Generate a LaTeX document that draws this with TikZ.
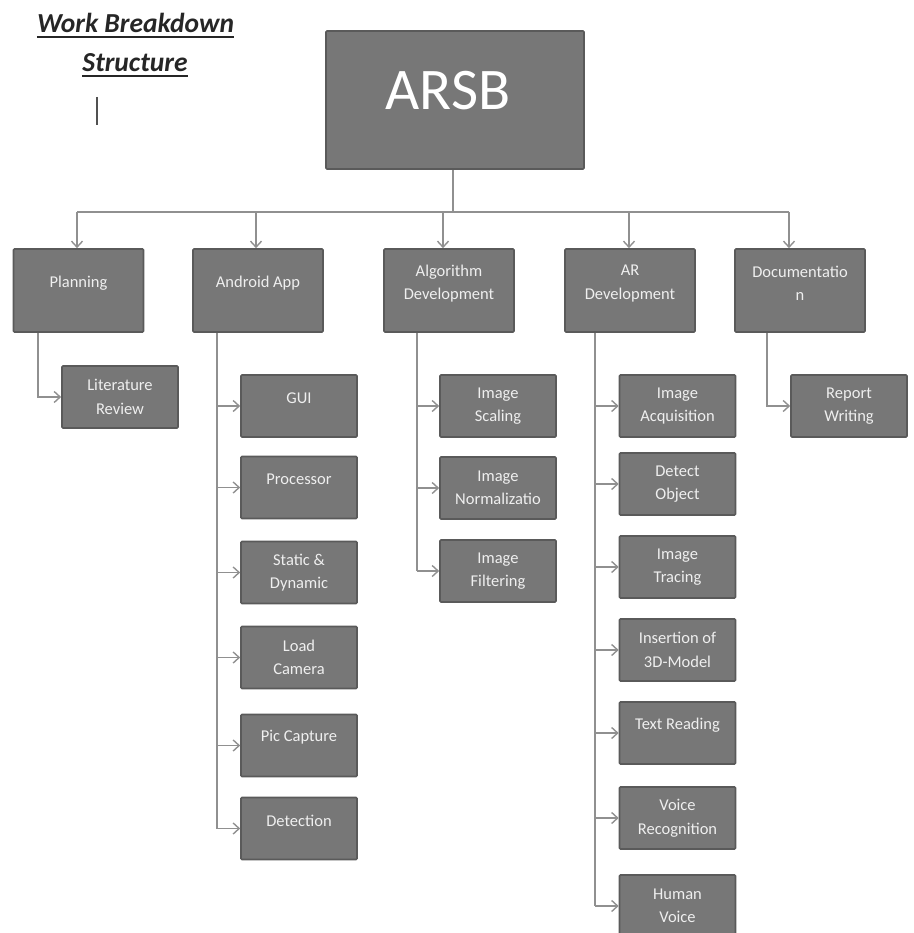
\documentclass[tikz,border=0pt]{standalone}
\usepackage{fontspec}
\setmainfont{Carlito}
\usetikzlibrary{arrows.meta}
\definecolor{boxfill}{HTML}{777777}
\definecolor{boxedge}{HTML}{5A5A5A}
\definecolor{linegray}{HTML}{909090}
\definecolor{txtgray}{HTML}{EFEFEF}
\definecolor{titlegray}{HTML}{262626}
\tikzset{
  wbs/.style={draw=boxedge, fill=boxfill, line width=1.6pt, rounded corners=1pt, inner sep=0pt},
  topbox/.style={wbs, minimum width=130pt, minimum height=83pt},
  subbox/.style={wbs, minimum width=116pt, minimum height=62pt},
  boxtext/.style={text=txtgray, font=\fontsize{16.5}{23.5}\selectfont, align=center, inner sep=0pt},
  toptext/.style={boxtext, yshift=7pt},
  subone/.style={boxtext, yshift=8pt},
  subtwo/.style={boxtext, yshift=0pt},
  conn/.style={draw=linegray, line width=1.6pt},
  arr/.style={conn, -{Straight Barb[length=6pt, width=11pt, line width=1.4pt]}},
  titletext/.style={text=titlegray, font=\fontsize{27.5}{30}\selectfont\bfseries\itshape, inner sep=0pt, anchor=base}
}
\begin{document}
\begin{tikzpicture}[x=1pt, y=-1pt]
\useasboundingbox (0,0) rectangle (913,933);

% title
\node[titletext] (t1) at (135.5,33) {Work Breakdown};
\node[titletext] (t2) at (135,72) {Structure};
\draw[titlegray, line width=2pt] ([yshift=-4.5pt]t1.base west) -- ([yshift=-4.5pt]t1.base east);
\draw[titlegray, line width=2pt] ([yshift=-4.5pt]t2.base west) -- ([yshift=-4.5pt]t2.base east);
\coordinate (cur1) at (97,97);
\coordinate (cur2) at (97,125);
\draw[titlegray!80, line width=1.6pt] (cur1) -- (cur2);

% root
\node[wbs, minimum width=258pt, minimum height=138pt,
  label={[text=white, font=\fontsize{59}{60}\selectfont, inner sep=0pt, xshift=-7pt, yshift=9pt]center:ARSB}] (arsb) at (455,100) {};

% level 1
\node[topbox, label={[toptext]center:Planning}] (plan) at (78.5,290.5) {};
\node[topbox, label={[toptext]center:Android App}] (andr) at (258,290.5) {};
\node[topbox, label={[toptext]center:{Algorithm\\Development}}] (algo) at (449,290.5) {};
\node[topbox, label={[toptext]center:{AR\\Development}}] (ardev) at (630,290.5) {};
\node[topbox, label={[toptext]center:{Documentatio\\n}}] (docu) at (800,290.5) {};

% bus
\coordinate (rootx) at (453,212);
\coordinate (busL) at (77,212);
\coordinate (busA) at (256,212);
\coordinate (busG) at (443,212);
\coordinate (busR) at (629,212);
\coordinate (busD) at (789,212);
\draw[conn] (arsb.south -| rootx) -- (rootx);
\draw[conn] (busL) -- (busD);
\draw[arr] (busL) -- (busL |- plan.north);
\draw[arr] (busA) -- (busA |- andr.north);
\draw[arr] (busG) -- (busG |- algo.north);
\draw[arr] (busR) -- (busR |- ardev.north);
\draw[arr] (busD) -- (busD |- docu.north);

% planning children
\node[subbox, label={[subtwo]center:{Literature\\Review}}] (lit) at (120,397) {};
\coordinate (sP) at (38,0);
\draw[arr] (plan.south -| sP) |- (lit.west);

% android children
\node[subbox, label={[subone]center:GUI}] (gui) at (299,406) {};
\node[subbox, label={[subone]center:Processor}] (proc) at (299,487.5) {};
\node[subbox, label={[subtwo]center:{Static \&\\Dynamic}}] (stat) at (299,572.5) {};
\node[subbox, label={[subtwo]center:{Load\\Camera}}] (load) at (299,657.5) {};
\node[subbox, label={[subone]center:Pic Capture}] (pic) at (299,745.5) {};
\node[subbox, label={[subone]center:Detection}] (det) at (299,828.5) {};
\coordinate (sA) at (217,0);
\draw[conn] (andr.south -| sA) -- (sA |- det.west);
\foreach \c in {gui,proc,stat,load,pic,det}
  \draw[arr] (sA |- \c.west) -- (\c.west);

% algorithm children
\node[subbox, label={[subtwo]center:{Image\\Scaling}}] (scal) at (498,406) {};
\node[subbox, label={[subtwo]center:{Image\\Normalizatio}}] (norm) at (498,488) {};
\node[subbox, label={[subtwo]center:{Image\\Filtering}}] (filt) at (498,571) {};
\coordinate (sG) at (417,0);
\draw[conn] (algo.south -| sG) -- (sG |- filt.west);
\foreach \c in {scal,norm,filt}
  \draw[arr] (sG |- \c.west) -- (\c.west);

% AR children
\node[subbox, label={[subtwo]center:{Image\\Acquisition}}] (acq) at (677.5,406) {};
\node[subbox, label={[subtwo]center:{Detect\\Object}}] (dobj) at (677.5,484) {};
\node[subbox, label={[subtwo]center:{Image\\Tracing}}] (trac) at (677.5,567) {};
\node[subbox, label={[subtwo]center:{Insertion of\\3D-Model}}] (ins) at (677.5,650) {};
\node[subbox, label={[subone]center:Text Reading}] (txtr) at (677.5,733) {};
\node[subbox, label={[subtwo]center:{Voice\\Recognition}}] (voice) at (677.5,818) {};
\node[subbox, label={[subtwo]center:{Human\\Voice}}] (human) at (677.5,906) {};
\coordinate (sR) at (595,0);
\draw[conn] (ardev.south -| sR) -- (sR |- human.west);
\foreach \c in {acq,dobj,trac,ins,txtr,voice,human}
  \draw[arr] (sR |- \c.west) -- (\c.west);

% documentation child
\node[subbox, label={[subtwo]center:{Report\\Writing}}] (rep) at (849,406) {};
\coordinate (sD) at (767,0);
\draw[arr] (docu.south -| sD) |- (rep.west);
\end{tikzpicture}
\end{document}
